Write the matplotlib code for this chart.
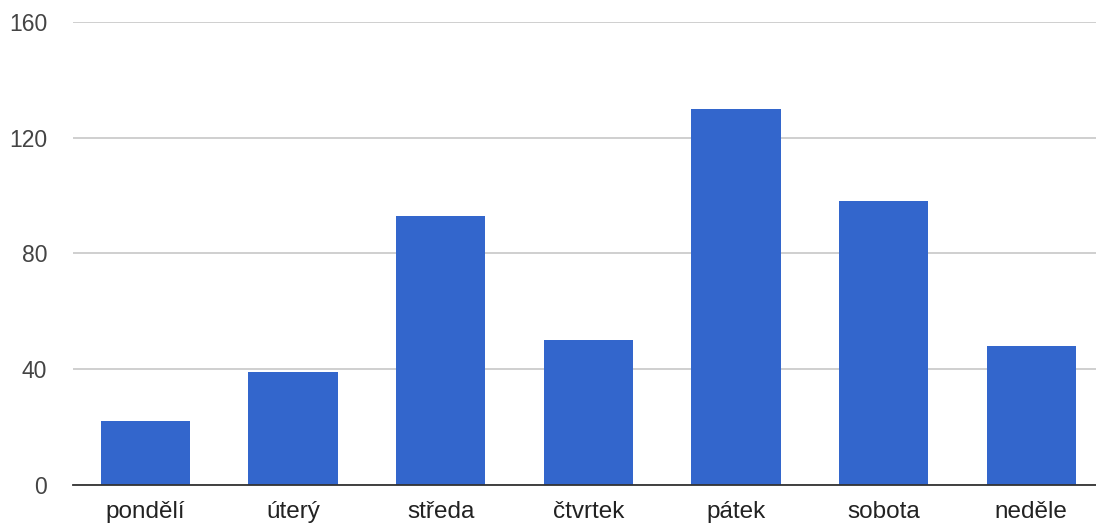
import matplotlib
matplotlib.use("Agg")
import matplotlib.pyplot as plt

categories = ["pondělí", "úterý", "středa", "čtvrtek", "pátek", "sobota", "neděle"]
values = [22, 39, 93, 50, 130, 98, 48]
yticks = [0, 40, 80, 120, 160]

plt.rcParams['font.family'] = ['Liberation Sans', 'DejaVu Sans']

W, H = 1096, 525
fig = plt.figure(figsize=(W / 100, H / 100), dpi=100)
left, right, top, bottom = 73, 1096, 22, 485
ax = fig.add_axes([left / W, 1 - bottom / H, (right - left) / W, (bottom - top) / H])

x = list(range(len(categories)))
ax.bar(x, values, width=0.605, color="#3366cc", zorder=3)
ax.set_xlim(-0.491, 6.439)
ax.set_ylim(0, 160)
ax.set_yticks(yticks)
ax.set_yticklabels([str(v) for v in yticks])
ax.set_xticks(x)
ax.set_xticklabels(categories)
ax.grid(axis="y", color="#cccccc", linewidth=1.3, zorder=0)
for s in ["top", "right", "left"]:
    ax.spines[s].set_visible(False)
ax.spines["bottom"].set_color("#333333")
ax.spines["bottom"].set_linewidth(1.3)
ax.spines["bottom"].set_zorder(4)
ax.tick_params(axis="y", length=0, labelsize=16.5, colors="#444444", pad=18.5)
ax.tick_params(axis="x", length=0, labelsize=17.5, colors="#222222", pad=11.5)

fig.savefig("out.png", dpi=100)
